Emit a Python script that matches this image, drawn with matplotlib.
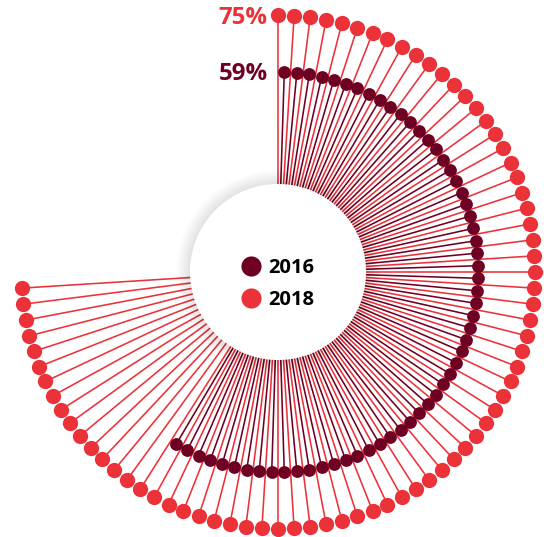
import numpy as np
import matplotlib.pyplot as plt
from matplotlib.lines import Line2D

# share of respondents, one spoke per percentage point
years = ['2016', '2018']
shares = [59, 75]
colors = ['#6d0023', '#ec3239']
radii = [200, 257]          # spoke length for each year
offsets = [0.5, 0.0]        # 2016 spokes sit between the 2018 ones
dot_sizes = [9.2, 11.0]

step = 2 * np.pi / 100

fig = plt.figure(figsize=(5.44, 5.37), dpi=100)
# polar axes centred on the figure, 1 data unit ~ 1 pixel
ax = fig.add_axes([(278 - 270) / 544, (265 - 270) / 537, 540 / 544, 540 / 537],
                  projection='polar')
ax.set_theta_zero_location('N')
ax.set_theta_direction(-1)
ax.set_ylim(0, 270)
ax.set_axis_off()

# 2018 first so the darker 2016 spokes draw on top
for k in [1, 0]:
    theta = (np.arange(shares[k]) + offsets[k]) * step
    for t in theta:
        ax.plot([t, t], [0, radii[k]], color=colors[k], lw=1.15,
                solid_capstyle='butt', zorder=2)
    ax.plot(theta, np.full(len(theta), radii[k]), 'o', color=colors[k],
            ms=dot_sizes[k], mec='none', zorder=4, clip_on=False)

# white hub with a soft shadow
circ = np.linspace(0, 2 * np.pi, 400)
for r in np.arange(102, 88, -1):
    ax.fill(circ, np.full(len(circ), r), color='#000000', alpha=0.007, lw=0, zorder=5)
ax.fill(circ, np.full(len(circ), 88), color='white', lw=0, zorder=6)

# percentage labels at the first spoke of each year
for k in range(2):
    ax.annotate(f'{shares[k]}%', xy=(0, radii[k]), xytext=(-7.5, -1.8),
                textcoords='offset points', ha='right', va='center',
                fontsize=17.3, fontweight='bold', color=colors[k],
                family='Open Sans', zorder=7, annotation_clip=False)

handles = [Line2D([], [], ls='none', marker='o', ms=14.5, color=c, mec='none')
           for c in colors]
leg = ax.legend(handles, years, loc='center', bbox_to_anchor=(0.5, 0.478),
                frameon=False, handlelength=1.0, handletextpad=0.35,
                labelspacing=0.62, prop={'family': 'Open Sans', 'weight': 'bold',
                                         'size': 14.5})
leg.set_zorder(8)

fig.savefig('out.png', dpi=100)
